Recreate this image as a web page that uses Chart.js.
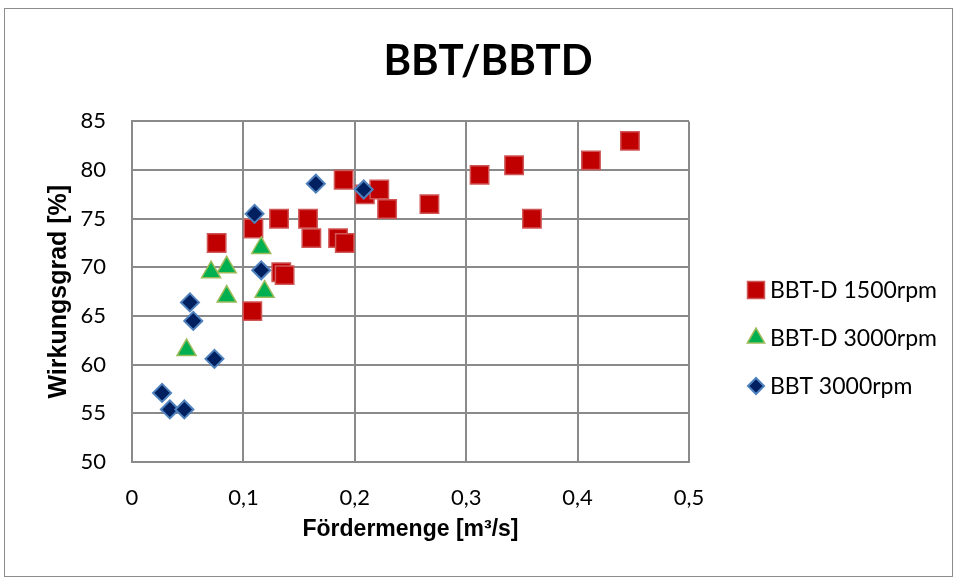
<!DOCTYPE html>
<html>
<head>
<meta charset="utf-8">
<script src="https://cdn.jsdelivr.net/npm/chart.js@4.4.1/dist/chart.umd.min.js"></script>
<style>
  html, body { margin: 0; padding: 0; background: #fff; }
  #wrap { width: 956px; height: 578px; }
</style>
</head>
<body>
<div id="wrap"><canvas id="effChart"></canvas></div>
<script>
// measured efficiency vs. flow rate
const seriesNames = ["BBT-D 1500rpm", "BBT-D 3000rpm", "BBT 3000rpm"];

const flowD1500 = [0.076, 0.109, 0.132, 0.158, 0.161, 0.185, 0.191, 0.190, 0.209, 0.222,
  0.229, 0.134, 0.137, 0.108, 0.267, 0.312, 0.343, 0.359, 0.412, 0.447];
const effD1500 = [72.5, 74.0, 75.0, 75.0, 73.0, 73.0, 72.5, 79.0, 77.5, 78.0,
  76.0, 69.5, 69.2, 65.5, 76.5, 79.5, 80.5, 75.0, 81.0, 83.0];

const flowD3000 = [0.116, 0.085, 0.071, 0.085, 0.119, 0.049];
const effD3000 = [72.0, 70.0, 69.5, 67.0, 67.5, 61.5];

const flowB3000 = [0.165, 0.208, 0.110, 0.116, 0.052, 0.055, 0.074, 0.027, 0.034, 0.047];
const effB3000 = [78.6, 78.0, 75.5, 69.7, 66.4, 64.5, 60.6, 57.1, 55.4, 55.4];

const xTickLabels = ["0", "0,1", "0,2", "0,3", "0,4", "0,5"];
const yTickLabels = ["50", "55", "60", "65", "70", "75", "80", "85"];

const gridColor = "#8a8a8a";
const tickFont = { family: "Lato", size: 22 };

function toPoints(xs, ys) {
  return xs.map((x, i) => ({ x: x, y: ys[i] }));
}

// legend drawn at the right, beside the plot
const sideLegend = {
  id: "sideLegend",
  afterDraw(chart, args, opts) {
    const ctx = chart.ctx;
    ctx.save();
    ctx.font = opts.font;
    ctx.textBaseline = "middle";
    chart.data.datasets.forEach((ds, i) => {
      const y = opts.top + i * opts.rowGap;
      ctx.fillStyle = ds.backgroundColor;
      ctx.strokeStyle = ds.borderColor;
      ctx.lineWidth = ds.borderWidth;
      Chart.helpers.drawPoint(ctx, {
        pointStyle: ds.pointStyle,
        radius: opts.markerRadius[i],
        borderWidth: ds.borderWidth,
        rotation: 0
      }, opts.markerX, y);
      ctx.fillStyle = "#000";
      ctx.fillText(ds.label, opts.textX, y + 1);
    });
    ctx.restore();
  }
};

// thin frame around the whole chart
const outerFrame = {
  id: "outerFrame",
  afterDraw(chart) {
    const ctx = chart.ctx;
    ctx.save();
    ctx.strokeStyle = "#8c8c8c";
    ctx.lineWidth = 1;
    ctx.strokeRect(4.5, 8.5, 948, 568);
    ctx.restore();
  }
};

new Chart(document.getElementById("effChart"), {
  type: "scatter",
  data: {
    datasets: [
      {
        label: seriesNames[0],
        data: toPoints(flowD1500, effD1500),
        pointStyle: "rect",
        pointRadius: 13,
        pointHoverRadius: 13,
        backgroundColor: "#c00000",
        borderColor: "#d05656",
        borderWidth: 1.5,
        order: 3
      },
      {
        label: seriesNames[1],
        data: toPoints(flowD3000, effD3000),
        pointStyle: "triangle",
        pointRadius: 11,
        pointHoverRadius: 11,
        backgroundColor: "#00b050",
        borderColor: "#9bbb59",
        borderWidth: 1.5,
        order: 2
      },
      {
        label: seriesNames[2],
        data: toPoints(flowB3000, effB3000),
        pointStyle: "rectRot",
        pointRadius: 9,
        pointHoverRadius: 9,
        backgroundColor: "#002060",
        borderColor: "#4f81bd",
        borderWidth: 2,
        order: 1
      }
    ]
  },
  options: {
    responsive: true,
    maintainAspectRatio: false,
    animation: false,
    layout: { padding: { left: 20, right: 0, top: 10, bottom: 0 } },
    plugins: {
      legend: { display: false },
      tooltip: { enabled: false },
      title: {
        display: true,
        text: "BBT/BBTD",
        color: "#000",
        font: { family: "Lato", size: 42, weight: "bold", lineHeight: 1.2 },
        padding: { top: 26, bottom: 35 }
      },
      sideLegend: {
        font: "23px Lato",
        markerX: 756,
        textX: 770,
        top: 290,
        rowGap: 48,
        markerRadius: [12, 10, 8]
      }
    },
    scales: {
      x: {
        type: "linear",
        min: 0,
        max: 0.5,
        ticks: {
          stepSize: 0.1,
          color: "#000",
          font: tickFont,
          padding: 23,
          maxRotation: 0,
          callback: (v, i) => xTickLabels[i]
        },
        grid: { color: gridColor, lineWidth: 2, drawTicks: false },
        border: { color: gridColor, width: 2 },
        title: {
          display: true,
          text: "Fördermenge [m³/s]",
          color: "#000",
          font: { family: "Liberation Sans", size: 23, weight: "bold", lineHeight: 1.2 },
          padding: { top: 0, bottom: 35 }
        },
        afterFit: (s) => { s.height = 116; }
      },
      y: {
        type: "linear",
        min: 50,
        max: 85,
        ticks: {
          stepSize: 5,
          color: "#000",
          font: tickFont,
          padding: 26,
          callback: (v, i) => yTickLabels[i]
        },
        grid: { color: gridColor, lineWidth: 2, drawTicks: false },
        border: { color: gridColor, width: 2 },
        title: {
          display: true,
          text: "Wirkungsgrad [%]",
          color: "#000",
          font: { family: "Liberation Sans", size: 25, weight: "bold", lineHeight: 1.2 },
          padding: { top: 24, bottom: 0 }
        },
        afterFit: (s) => { s.width = 112; }
      },
      // empty right-hand box that keeps room for the legend
      side: {
        type: "linear",
        position: "right",
        display: true,
        ticks: { display: false },
        grid: { display: false },
        border: { display: false },
        afterFit: (s) => { s.width = 267; }
      }
    }
  },
  plugins: [sideLegend, outerFrame]
});
</script>
</body>
</html>
